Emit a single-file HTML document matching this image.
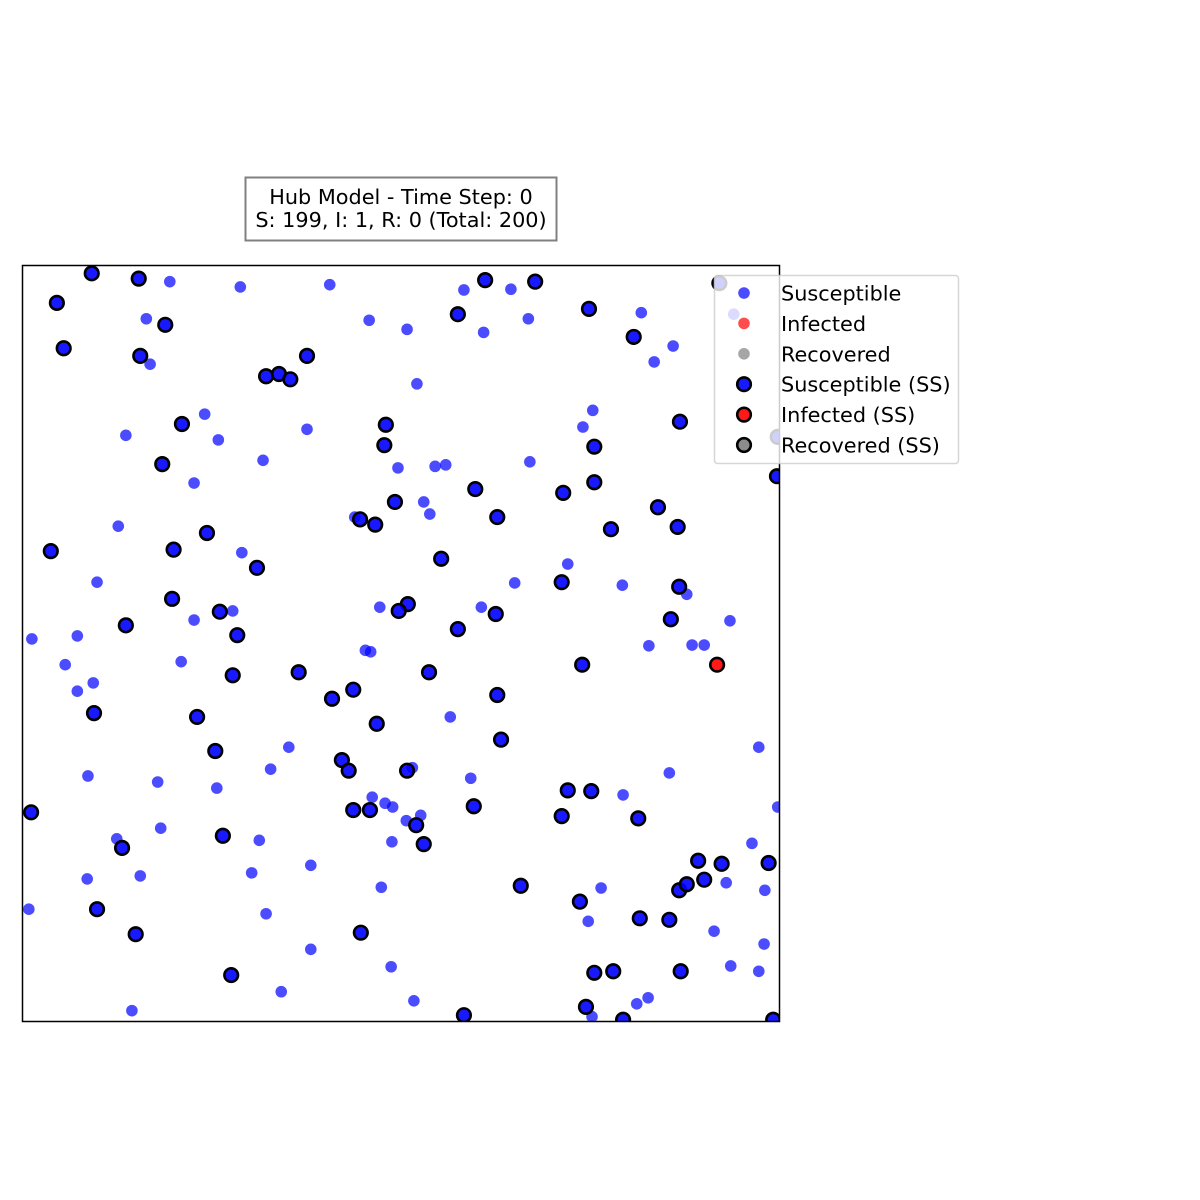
<!DOCTYPE html>
<html><head><meta charset="utf-8"><style>
html,body{margin:0;padding:0;background:#fff;}
svg{display:block;font-family:"DejaVu Sans","Liberation Sans",sans-serif;}
</style></head><body>
<svg id="chart" width="1200" height="1200" viewBox="0 0 1200 1200" xmlns="http://www.w3.org/2000/svg">
<defs><clipPath id="plotclip"><rect x="22" y="265" width="758" height="757"/></clipPath></defs>
<rect x="0" y="0" width="1200" height="1200" fill="#fff"/>
<g id="title-box">
  <rect x="245.5" y="177.5" width="311" height="63" fill="#fff" stroke="#808080" stroke-width="2"/>
  <text x="401" y="204" font-size="20.8" text-anchor="middle" fill="#000">Hub Model - Time Step: 0</text>
  <text x="401" y="227" font-size="20.8" text-anchor="middle" fill="#000">S: 199, I: 1, R: 0 (Total: 200)</text>
</g>
<g id="points-small" clip-path="url(#plotclip)"></g>
<g id="points-ss" clip-path="url(#plotclip)"></g>
<rect x="22.5" y="265.5" width="757" height="756" fill="none" stroke="#000" stroke-width="1.5"/>
<g id="legend">
  <rect x="714.5" y="275.5" width="244" height="188" rx="3" fill="#fff" fill-opacity="0.8" stroke="#ccc" stroke-opacity="0.8" stroke-width="1.5"/>
</g>
</svg>
<script>
// data in domain 0..100 for both axes
const smallX = [19.5,28.8,40.6,16.4,16.9,45.8,50.8,58.3,64.5,66.8,60.9,81.7,85.9,83.4,52.1,13.7,24.1,25.9,22.7,31.8,37.6,49.6,54.5,55.9,53.0,53.8,43.9,67.0,75.3,74.0,12.7,29.0,9.9,72.0,65.0,79.2,87.7,93.4,47.2,27.8,22.7,1.3,7.3,45.3,46.0,60.6,82.7,88.4,90.0,5.7,9.4,7.3,21.0,56.5,97.2,35.2,32.8,8.7,17.9,25.7,51.5,59.2,85.4,79.3,46.2,47.9,48.9,52.6,50.7,48.8,18.3,12.5,31.3,99.7,96.3,38.1,15.6,8.6,30.3,47.4,76.4,92.9,98.0,0.9,32.2,74.7,91.3,38.1,97.9,48.7,93.5,97.2,34.2,51.7,82.6,81.1,14.5,75.2,93.9];
const smallY = [97.8,97.1,97.4,92.9,86.9,92.7,91.5,96.7,96.8,92.9,91.1,93.7,89.3,87.2,84.3,77.5,80.3,76.9,71.2,74.2,78.3,73.2,73.4,73.6,68.7,67.1,66.7,74.0,80.8,78.6,65.5,62.0,58.1,60.5,58.0,57.7,56.5,53.0,54.8,54.3,53.1,50.6,51.0,49.1,48.9,54.8,49.7,49.8,49.8,47.2,44.8,43.7,47.6,40.3,36.3,36.3,33.4,32.5,31.7,30.9,33.6,32.2,32.9,30.0,29.7,28.9,28.4,27.3,26.6,23.8,25.6,24.2,24.0,28.4,23.6,20.7,19.3,18.9,19.7,17.8,17.7,18.4,17.4,14.9,14.3,13.3,12.0,9.6,10.3,7.3,7.4,6.7,4.0,2.8,3.2,2.4,1.5,0.7,93.5];
const ssX = [9.2,15.4,4.6,18.9,5.5,15.6,32.2,33.9,35.4,37.6,21.1,18.5,48.0,47.8,57.5,61.1,67.7,74.8,80.7,86.8,75.5,75.5,71.4,83.9,86.5,77.7,59.8,62.7,49.2,44.6,46.6,55.3,3.8,20.0,24.4,31.0,19.8,26.1,13.7,28.4,27.8,36.5,40.9,43.7,46.8,53.7,57.5,62.5,50.9,49.7,71.2,86.7,85.6,73.9,62.7,63.2,9.5,23.1,25.5,42.2,43.1,50.8,43.7,45.9,52.0,53.0,59.6,72.0,75.1,71.2,81.3,1.2,26.5,13.2,9.9,15.0,27.6,44.7,65.8,73.6,81.5,85.4,86.7,87.7,90.0,89.2,92.3,98.5,86.9,75.5,78.0,74.4,79.3,58.3,99.1,99.6,92.0,99.7];
const ssY = [98.9,98.2,95.0,92.1,89.0,88.0,85.3,85.6,84.9,88.0,79.0,73.7,78.9,76.2,93.5,98.0,97.8,94.2,90.5,79.3,76.0,71.3,69.9,68.0,65.4,65.1,70.4,66.7,68.7,66.4,65.7,61.2,62.2,62.4,64.6,60.0,55.9,54.2,52.4,51.1,45.8,46.2,42.7,43.9,39.4,46.2,51.9,53.9,55.2,54.3,58.1,57.5,53.2,47.2,43.2,37.3,40.8,40.3,35.8,34.6,33.2,33.2,28.0,28.0,26.0,23.5,28.5,30.6,30.5,27.2,26.9,27.7,24.6,23.0,14.9,11.6,6.2,11.8,18.0,15.9,13.7,13.5,17.4,18.2,18.8,21.3,20.9,21.0,6.7,6.5,6.7,2.0,0.3,0.9,0.3,72.1,97.6,77.3];
const infX = [91.7];
const infY = [47.2];
const legendLabels = ["Susceptible","Infected","Recovered","Susceptible (SS)","Infected (SS)","Recovered (SS)"];

const NS = "http://www.w3.org/2000/svg";
const X0=22, X1=780, Y0=1022, Y1=265;
function sx(v){ return X0 + v/100*(X1-X0); }
function sy(v){ return Y0 - v/100*(Y0-Y1); }

const gS = document.getElementById('points-small');
for (let i=0;i<smallX.length;i++){
  const c = document.createElementNS(NS,'circle');
  c.setAttribute('cx', sx(smallX[i])); c.setAttribute('cy', sy(smallY[i]));
  c.setAttribute('r', 5.8); c.setAttribute('fill', '#0000ff'); c.setAttribute('fill-opacity', '0.7');
  
  
  gS.appendChild(c);
}
const gSS = document.getElementById('points-ss');
function ssPoint(x,y,fill,name){
  const c = document.createElementNS(NS,'circle');
  c.setAttribute('cx', sx(x)); c.setAttribute('cy', sy(y));
  c.setAttribute('r', 6.8); c.setAttribute('fill', fill); c.setAttribute('fill-opacity', '0.9');
  c.setAttribute('stroke', '#000'); c.setAttribute('stroke-width', '2.6');
  
  
  gSS.appendChild(c);
}
for (let i=0;i<ssX.length;i++) ssPoint(ssX[i], ssY[i], '#0000ff', 'susceptible-ss-point');
for (let i=0;i<infX.length;i++) ssPoint(infX[i], infY[i], '#ff0000', 'infected-ss-point');

const lg = document.getElementById('legend');
const lfill = ['#0000ff','#ff0000','#808080','#0000ff','#ff0000','#808080'];
for (let i=0;i<legendLabels.length;i++){
  const y = 293 + i*30.4;
  const m = document.createElementNS(NS,'circle');
  m.setAttribute('cx', 744); m.setAttribute('cy', y);
  if (i<3){ m.setAttribute('r', 5.8); m.setAttribute('fill', lfill[i]); m.setAttribute('fill-opacity','0.7'); }
  else { m.setAttribute('r', 6.8); m.setAttribute('fill', lfill[i]); m.setAttribute('fill-opacity','0.9'); m.setAttribute('stroke','#000'); m.setAttribute('stroke-width','2.6'); }
  
  
  lg.appendChild(m);
  const t = document.createElementNS(NS,'text');
  t.setAttribute('x', 781); t.setAttribute('y', y+7.5);
  t.setAttribute('font-size', '20.8'); t.setAttribute('fill', '#000');
  t.textContent = legendLabels[i];
  
  
  lg.appendChild(t);
}
</script>
</body></html>
